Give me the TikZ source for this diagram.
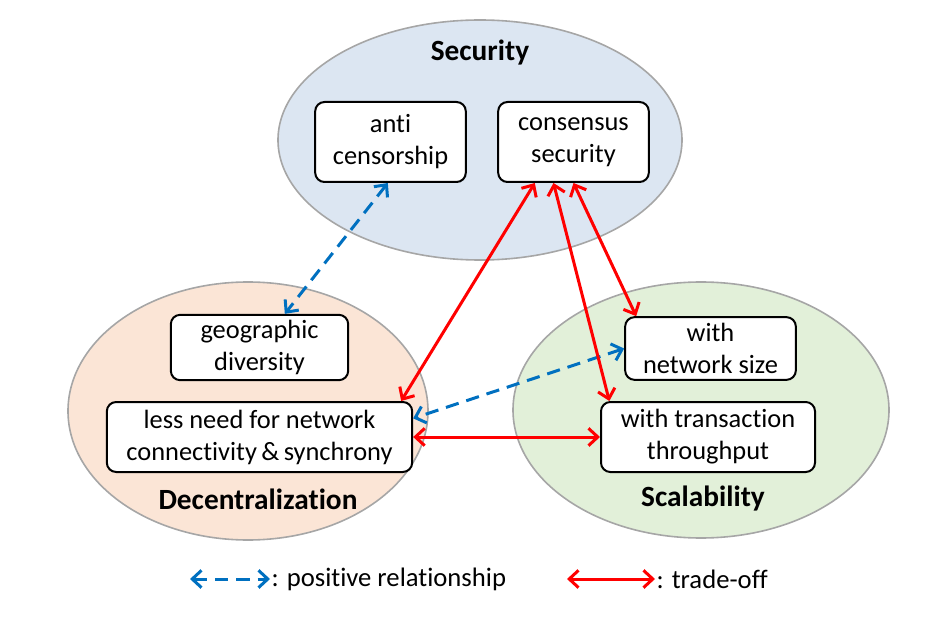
\documentclass[tikz,border=0pt]{standalone}
\usepackage{fontspec}
\setmainfont{Carlito}[Ligatures={NoCommon,NoRare}]
\usepackage{tikz}
\usetikzlibrary{positioning,arrows.meta,calc}

\definecolor{secfill}{HTML}{DCE6F2}
\definecolor{decfill}{HTML}{FBE5D6}
\definecolor{scafill}{HTML}{E2F0D9}
\definecolor{rimgray}{HTML}{A6A6A6}
\definecolor{posblue}{HTML}{0070C0}
\definecolor{offred}{HTML}{FF0000}

\tikzset{
  prop/.style={draw=black, line width=1.5pt, rounded corners=7pt, fill=white,
    align=center, inner sep=0pt, font=\fontsize{19.8}{24}\selectfont},
  group/.style={draw=rimgray, line width=1.2pt},
  title/.style={font=\fontsize{22}{26}\selectfont\bfseries},
  legend/.style={font=\fontsize{20}{24}\selectfont, inner sep=1pt},
  posrel/.style={posblue, line width=2.25pt, dash pattern=on 10pt off 6pt, {Straight Barb[length=7pt,width=13pt]}-{Straight Barb[length=7pt,width=13pt]}},
  tradeoff/.style={offred, line width=2.25pt, {Straight Barb[length=7pt,width=13pt]}-{Straight Barb[length=7pt,width=13pt]}}
}

\begin{document}
\begin{tikzpicture}[x=0.75pt, y=-0.75pt]
\useasboundingbox (0,0) rectangle (947,624);
% groups
\draw[group, fill=secfill] (480,140) ellipse [x radius=151.5pt, y radius=90pt];
\draw[group, fill=decfill] (248,411) ellipse [x radius=135pt, y radius=96.75pt];
\draw[group, fill=scafill] (701,410) ellipse [x radius=141pt, y radius=96pt];
\node[title] (sec) at (480,53) {Security};
\node[title] (dec) at (258,499) {Decentralization};
\node[title] (sca) at (703,499) {Scalability};
% properties
\node[prop, minimum width=113pt, minimum height=60pt] (anti) at (390.5,142) {anti\\censorship};
\node[prop, minimum width=113pt, minimum height=60pt] (cons) at (573.5,142) {consensus\\security};
\node[prop, minimum width=133pt, minimum height=49pt] (geo) at (259.5,347.5) {geographic\\diversity};
\node[prop, minimum width=229pt, minimum height=52.5pt] (less) at (259.5,437) {less need for network\\connectivity\,\&\,synchrony};
\node[prop, minimum width=128pt, minimum height=47pt] (net) at (710.5,348.5) {with\\network size};
\node[prop, minimum width=160.5pt, minimum height=52.5pt] (trans) at (708,437) {with transaction\\throughput};
% relationships
\draw[posrel] ([xshift=-2pt]anti.south) -- ([xshift=19pt]geo.north);
\draw[posrel] (net.west) -- ([yshift=14pt]less.east);
\draw[tradeoff] ([xshift=-29pt]cons.south) -- ([xshift=-9pt]less.north east);
\draw[tradeoff] ([xshift=-15pt]cons.south) -- ([xshift=7pt]trans.north west);
\draw[tradeoff] (cons.south) -- ([xshift=9pt]net.north west);
\draw[tradeoff] (less.east) -- (trans.west);
% legend
\coordinate (pa) at (190,579);
\coordinate (pb) at (270,579);
\coordinate (ta) at (567,579);
\coordinate (tb) at (655,579);
\draw[posrel] (pa) -- (pb);
\node[legend, anchor=west] (postxt) at (pb) {: positive relationship};
\draw[tradeoff] (ta) -- (tb);
\node[legend, anchor=west] (offtxt) at (tb) {: trade-off};
\end{tikzpicture}
\end{document}
